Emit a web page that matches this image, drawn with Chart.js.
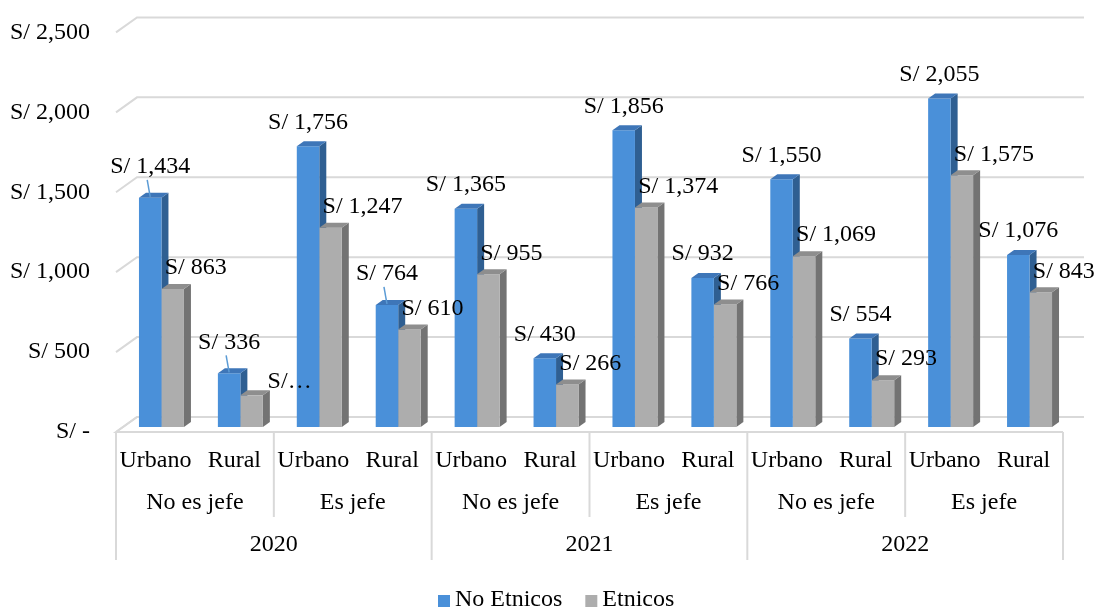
<!DOCTYPE html>
<html>
<head>
<meta charset="utf-8">
<script src="https://cdn.jsdelivr.net/npm/chart.js@4/dist/chart.umd.min.js"></script>
<style>
  html, body { margin: 0; padding: 0; background: #fff; }
  #wrap { width: 1105px; height: 612px; }
</style>
</head>
<body>
<div id="wrap"><canvas id="c" width="1105" height="612"></canvas></div>
<script>
// ── Data ──────────────────────────────────────────────────────────────────
const areas     = ['Urbano', 'Rural', 'Urbano', 'Rural', 'Urbano', 'Rural', 'Urbano', 'Rural', 'Urbano', 'Rural', 'Urbano', 'Rural'];
const jefes     = ['No es jefe', 'Es jefe', 'No es jefe', 'Es jefe', 'No es jefe', 'Es jefe'];
const years     = ['2020', '2021', '2022'];
const noEtnicos = [1434, 336, 1756, 764, 1365, 430, 1856, 932, 1550, 554, 2055, 1076];
const etnicos   = [863, 198, 1247, 610, 955, 266, 1374, 766, 1069, 293, 1575, 843];
const yTicks    = [0, 500, 1000, 1500, 2000, 2500];
// labels Excel cut short, and those drawn with a leader line
const etnicosLabelText = { 1: 'S/…' };
const leaderIdx = [0, 1, 3];

// ── Style ─────────────────────────────────────────────────────────────────
const FONT  = '"Liberation Serif", "Times New Roman", serif';
const FSIZE = 24;
const GRID  = '#d9d9d9';
const WALL  = { dx: 21, dy: -15 };   // back wall offset
const SHIFT = { dx: 6,  dy: -5 };    // bars sit a bit back in depth
const DEPTH = { dx: 7,  dy: -5 };    // column depth
const faces = [
  { front: '#4a90d9', top: '#3e76b8', side: '#2f5f92' },
  { front: '#adadad', top: '#8e8e8e', side: '#737373' },
];

function fmt(v) {
  if (v === 0) return 'S/ -';
  return 'S/ ' + v.toLocaleString('en-US');
}

function barBox(bar) {
  const { x, y, base, width } = bar.getProps(['x', 'y', 'base', 'width'], true);
  return { l: x - width / 2, r: x + width / 2, y, base };
}

// ── 3D look plugin ────────────────────────────────────────────────────────
const threeD = {
  id: 'threeD',
  beforeDatasetsDraw(chart) {
    const { ctx, chartArea: a, scales: { y } } = chart;
    ctx.save();
    ctx.strokeStyle = GRID;
    ctx.lineWidth = 2;
    for (const v of yTicks) {
      const py = y.getPixelForValue(v);
      ctx.beginPath();
      ctx.moveTo(a.left, py);
      ctx.lineTo(a.left + WALL.dx, py + WALL.dy);
      ctx.lineTo(a.right + WALL.dx, py + WALL.dy);
      ctx.stroke();
    }
    ctx.restore();
    ctx.save();
    ctx.translate(SHIFT.dx, SHIFT.dy);
    // side faces first, so the next column's front covers them
    [0, 1].forEach(d => {
      ctx.fillStyle = faces[d].side;
      for (const bar of chart.getDatasetMeta(d).data) {
        const { r, y, base } = barBox(bar);
        ctx.beginPath();
        ctx.moveTo(r, y);
        ctx.lineTo(r + DEPTH.dx, y + DEPTH.dy);
        ctx.lineTo(r + DEPTH.dx, base + DEPTH.dy);
        ctx.lineTo(r, base);
        ctx.closePath();
        ctx.fill();
      }
    });
  },
  afterDatasetsDraw(chart) {
    const { ctx } = chart;
    // top faces
    [0, 1].forEach(d => {
      ctx.fillStyle = faces[d].top;
      for (const bar of chart.getDatasetMeta(d).data) {
        const { l, r, y } = barBox(bar);
        ctx.beginPath();
        ctx.moveTo(l, y);
        ctx.lineTo(l + DEPTH.dx, y + DEPTH.dy);
        ctx.lineTo(r + DEPTH.dx, y + DEPTH.dy);
        ctx.lineTo(r, y);
        ctx.closePath();
        ctx.fill();
      }
    });
    ctx.restore();

    // data labels
    ctx.save();
    ctx.font = `${FSIZE}px ${FONT}`;
    ctx.fillStyle = '#000';
    ctx.textBaseline = 'middle';
    chart.getDatasetMeta(0).data.forEach((bar, i) => {
      const bx = bar.x + SHIFT.dx, by = bar.y + SHIFT.dy;
      const lead = leaderIdx.includes(i);
      const ly = by - (lead ? 31 : 24);
      ctx.textAlign = 'center';
      ctx.fillText(fmt(noEtnicos[i]), bx, ly);
      if (lead) {
        ctx.strokeStyle = '#5b9bd5';
        ctx.lineWidth = 1.5;
        ctx.beginPath();
        ctx.moveTo(bx - 3, ly + 13);
        ctx.lineTo(bx, by - 1);
        ctx.stroke();
      }
    });
    chart.getDatasetMeta(1).data.forEach((bar, i) => {
      const bx = bar.x + SHIFT.dx, by = bar.y + SHIFT.dy;
      const cut = etnicosLabelText[i];
      ctx.textAlign = 'left';
      ctx.fillText(cut || fmt(etnicos[i]), bx - 8 + (cut ? 24 : 0), by - (cut ? 14 : 21));
    });
    ctx.restore();
  },
  afterDraw(chart) {
    const { ctx, chartArea: a, scales: { x } } = chart;
    const half = (x.getPixelForValue(1) - x.getPixelForValue(0)) / 2;
    const edge = i => x.getPixelForValue(i) - half;   // left edge of category i
    const top = a.bottom;

    ctx.save();
    ctx.strokeStyle = GRID;
    ctx.lineWidth = 2;
    // floor front edge + table top
    ctx.beginPath();
    ctx.moveTo(a.left + WALL.dx, top + WALL.dy);
    ctx.lineTo(a.left, top);
    ctx.lineTo(a.right, top);
    ctx.stroke();
    // dividers
    for (let i = 0; i <= areas.length; i += 2) {
      const yearEdge = i % 4 === 0;
      const px = edge(i);
      ctx.beginPath();
      ctx.moveTo(px, top);
      ctx.lineTo(px, yearEdge ? 560 : 517);
      ctx.stroke();
    }

    ctx.font = `${FSIZE}px ${FONT}`;
    ctx.fillStyle = '#000';
    ctx.textAlign = 'center';
    ctx.textBaseline = 'middle';
    areas.forEach((t, i) => ctx.fillText(t, x.getPixelForValue(i), 461));
    jefes.forEach((t, j) => ctx.fillText(t, edge(2 * j + 1), 503));
    years.forEach((t, k) => ctx.fillText(t, edge(4 * k + 2), 545));

    // legend
    const items = [
      { label: 'No Etnicos', color: faces[0].front },
      { label: 'Etnicos', color: faces[1].front },
    ];
    ctx.textAlign = 'left';
    let lx = 438;
    const ly = 600;
    for (const it of items) {
      ctx.fillStyle = it.color;
      ctx.fillRect(lx, ly - 5, 12, 12);
      ctx.fillStyle = '#000';
      ctx.fillText(it.label, lx + 17, ly);
      lx += 17 + ctx.measureText(it.label).width + 23;
    }
    ctx.restore();
  },
};

// ── Chart ─────────────────────────────────────────────────────────────────
new Chart(document.getElementById('c'), {
  type: 'bar',
  data: {
    labels: areas,
    datasets: [
      { label: 'No Etnicos', data: noEtnicos, backgroundColor: faces[0].front, clip: false },
      { label: 'Etnicos',    data: etnicos,   backgroundColor: faces[1].front, clip: false },
    ],
  },
  options: {
    responsive: false,
    animation: false,
    events: [],
    layout: { padding: { top: 20, right: 42, left: 0, bottom: 0 } },
    datasets: { bar: { categoryPercentage: 0.57, barPercentage: 1, borderWidth: 0 } },
    plugins: { legend: { display: false }, tooltip: { enabled: false } },
    scales: {
      x: {
        grid: { display: false },
        border: { display: false },
        ticks: { display: false },
        afterFit: s => { s.height = 180; },
      },
      y: {
        min: 0, max: 2500,
        afterBuildTicks: s => { s.ticks = yTicks.map(v => ({ value: v })); },
        grid: { display: false },
        border: { display: false },
        ticks: {
          color: '#000',
          padding: 18,
          font: { family: FONT, size: FSIZE },
          callback: v => fmt(v),
        },
        afterFit: s => { s.width = 116; },
      },
    },
  },
  plugins: [threeD],
});
</script>
</body>
</html>
